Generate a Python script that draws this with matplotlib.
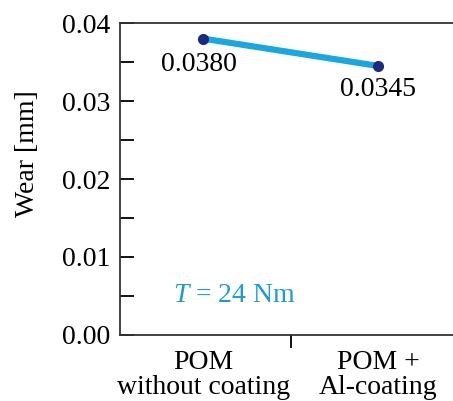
import numpy as np
import matplotlib.pyplot as plt
from matplotlib.ticker import MultipleLocator

# Data
categories = ['POM\nwithout coating', 'POM +\nAl-coating']
wear = [0.0380, 0.0345]
labels = ['0.0380', '0.0345']
yticks = [0.00, 0.01, 0.02, 0.03, 0.04]
ytick_labels = ['0.00', '0.01', '0.02', '0.03', '0.04']

plt.rcParams['font.family'] = ['Liberation Serif', 'DejaVu Serif']
plt.rcParams['mathtext.fontset'] = 'custom'
plt.rcParams['mathtext.it'] = 'Liberation Serif:italic'
plt.rcParams['mathtext.rm'] = 'Liberation Serif'

fs = 20

fig = plt.figure(figsize=(4.53, 4.01), dpi=100)
ax = fig.add_axes([120 / 453, 66 / 401, 341 / 453, 312 / 401])

x = np.arange(len(categories))
ax.plot(x, wear, '-', color='#1aa7e0', lw=4.5, zorder=2)
ax.plot(x, wear, 'o', color='#1c2a80', ms=7, zorder=3)

offsets = [(-3, -19), (0, -17)]
for xi, yi, lab, off in zip(x, wear, labels, offsets):
    ax.annotate(lab, (xi, yi), xytext=off, textcoords='offset points',
                ha='center', va='center', fontsize=fs)

ax.set_xlim(-0.475, 1.475)
ax.set_ylim(0, 0.04)
ax.set_xticks(x)
ax.set_xticklabels(categories, fontsize=fs, linespacing=1.0)
ax.set_xticks([0.5], minor=True)
ax.tick_params(axis='x', which='major', length=0, pad=11)
ax.tick_params(axis='x', which='minor', length=9, width=1.3, direction='out')

ax.set_yticks(yticks)
ax.set_yticklabels(ytick_labels, fontsize=fs)
ax.yaxis.set_minor_locator(MultipleLocator(0.005))
ax.tick_params(axis='y', which='both', direction='in', length=10, width=1.3, pad=7)

for s in ['left', 'bottom', 'top']:
    ax.spines[s].set_linewidth(1.3)
    ax.spines[s].set_color('#333333')
ax.spines['right'].set_visible(False)

ax.set_ylabel('Wear [mm]', fontsize=fs)
ax.yaxis.set_label_coords(-0.235, 0.58)

ax.text(0.155, 0.128, r'$T$ = 24 Nm', transform=ax.transAxes,
        color='#1d9ad6', fontsize=fs, ha='left', va='center')

fig.savefig('out.png', dpi=100)
